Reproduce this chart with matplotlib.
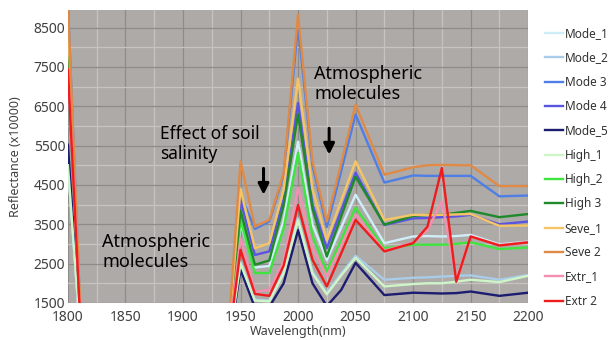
import matplotlib
matplotlib.use("Agg")
import matplotlib.pyplot as plt
from matplotlib.ticker import MultipleLocator

plt.rcParams['font.family'] = ['Noto Sans', 'DejaVu Sans']

# wavelengths (nm) sampled in the chart
wavelength = [1800, 1812.5, 1937.5, 1950, 1962.5, 1975, 1987.5, 2000, 2012.5, 2025,
              2037.5, 2050, 2075, 2100, 2112.5, 2125, 2137.5, 2150, 2175, 2200]

mode_1 = [5000, 0, 0, 3500, 2400, 2440, 3600, 5600, 3500, 2590, 3420, 4250, 3020, 3190, 3200, 3190, 3200, 3230, 2990, 3060]
mode_2 = [5000, 0, 0, 2550, 1580, 1560, 2300, 3650, 2300, 1750, 2250, 2700, 2090, 2140, 2150, 2170, 2190, 2200, 2090, 2210]
mode_3 = [9100, 0, 0, 4250, 3380, 3570, 4750, 8550, 5000, 3430, 4850, 6290, 4560, 4740, 4730, 4730, 4730, 4730, 4210, 4230]
mode_4 = [7430, 0, 0, 4100, 2720, 2810, 4120, 6580, 4000, 2890, 3850, 4810, 3480, 3650, 3660, 3680, 3700, 3740, 3500, 3570]
mode_5 = [5520, 0, 0, 2350, 1380, 1400, 2000, 3350, 2000, 1420, 1830, 2520, 1700, 1760, 1750, 1740, 1750, 1790, 1680, 1760]
high_1 = [5000, 0, 0, 2500, 1560, 1540, 2250, 3600, 2250, 1720, 2200, 2650, 1920, 1980, 2000, 2000, 2040, 2090, 2030, 2190]
high_2 = [7430, 0, 0, 3610, 2260, 2260, 3400, 5310, 3200, 2300, 3100, 3920, 2890, 2980, 2980, 2980, 3000, 3040, 2870, 2910]
high_3 = [7740, 0, 0, 3850, 2470, 2580, 3990, 6300, 3900, 2680, 3700, 4710, 3490, 3710, 3740, 3740, 3790, 3840, 3680, 3760]
seve_1 = [8700, 0, 0, 4400, 2890, 3020, 4380, 7200, 4400, 3100, 4100, 5100, 3610, 3740, 3740, 3740, 3750, 3760, 3460, 3470]
seve_2 = [9100, 0, 0, 5100, 3440, 3610, 4800, 8830, 5100, 3570, 5050, 6540, 4760, 4950, 5000, 5010, 5000, 5000, 4470, 4470]
extr_1 = [7430, 0, 0, 3150, 1790, 1830, 2550, 4420, 2900, 2170, 2960, 3750, 2830, 3040, 3350, 4080, 2100, 3190, 2970, 3050]
extr_2 = [7430, 0, 0, 2850, 1730, 1680, 2450, 3990, 2600, 1920, 2760, 3610, 2810, 3020, 3440, 4930, 2040, 3190, 2960, 3040]

labels = ['Mode_1', 'Mode_2', 'Mode 3', 'Mode 4', 'Mode_5', 'High_1', 'High_2', 'High 3',
          'Seve_1', 'Seve 2', 'Extr_1', 'Extr 2']
series = [mode_1, mode_2, mode_3, mode_4, mode_5, high_1, high_2, high_3,
          seve_1, seve_2, extr_1, extr_2]
colors = ['#cfeef7', '#a9cce8', '#4f7fe6', '#5a55e0', '#1c1c70', '#cdf5c8', '#3fe53f', '#1f8a2a',
          '#f5c565', '#e08a45', '#f58fb0', '#ee1c1c']

fig = plt.figure(figsize=(6.12, 3.40), dpi=100)
ax = fig.add_axes([0.111, 0.109, 0.752, 0.862])
ax.set_facecolor('#aeaaa7')

for vals, lab, col in zip(series, labels, colors):
    ax.plot(wavelength, vals, color=col, lw=1.7, label=lab)

ax.set_xlim(1800, 2200)
ax.set_ylim(1500, 8950)
ax.xaxis.set_major_locator(MultipleLocator(50))
ax.xaxis.set_minor_locator(MultipleLocator(25))
ax.set_yticks(range(1500, 8600, 1000))
ax.yaxis.set_minor_locator(MultipleLocator(500))
ax.grid(which='major', color='#8e8b89', lw=0.9)
ax.grid(which='minor', color='#c6c3c0', lw=0.9)
ax.set_axisbelow(True)
for s in ax.spines.values():
    s.set_visible(False)
ax.tick_params(which='both', length=0, labelsize=10, labelcolor='#404040')
ax.tick_params(axis='x', pad=5)
ax.tick_params(axis='y', pad=2)

ax.set_xlabel('Wavelength(nm)', fontsize=9, color='#404040', labelpad=0)
ax.set_ylabel('Reflectance (x10000)', fontsize=9, color='#404040', labelpad=8)

# annotations
ax.text(1830, 2800, 'Atmospheric\nmolecules', fontsize=13, va='center', linespacing=1.15)
ax.text(1880, 5550, 'Effect of soil\nsalinity', fontsize=12.5, va='center', linespacing=1.15)
ax.text(2014, 7070, 'Atmospheric\nmolecules', fontsize=13, va='center', linespacing=1.15)
ax.annotate('', xy=(1970, 4180), xytext=(1970, 4990),
            arrowprops=dict(arrowstyle='-|>', lw=2.2, color='black', mutation_scale=16))
ax.annotate('', xy=(2027, 5200), xytext=(2027, 6010),
            arrowprops=dict(arrowstyle='-|>', lw=2.2, color='black', mutation_scale=16))

leg = fig.legend(loc='upper left', bbox_to_anchor=(0.882, 0.934), frameon=False, fontsize=8.5,
                 handlelength=1.6, handletextpad=0.12, labelspacing=0.96, borderaxespad=0)
for t in leg.get_texts():
    t.set_color('#333333')

fig.savefig('out.png', dpi=100)
